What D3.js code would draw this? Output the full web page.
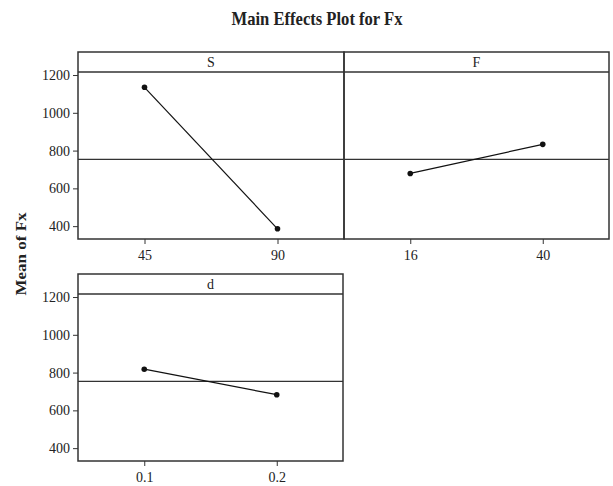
<!DOCTYPE html>
<html>
<head>
<meta charset="utf-8">
<script src="https://cdn.jsdelivr.net/npm/d3@7"></script>
<style>
  body { margin: 0; background: #fff; }
  text { font-family: "Liberation Serif", "DejaVu Serif", serif; fill: #222; }
</style>
</head>
<body>
<svg id="chart" width="613" height="486"></svg>
<script>
// factor levels and mean response
const factors = ["S", "F", "d"];
const levelsS = ["45", "90"];
const meansS = [1135, 386];
const levelsF = ["16", "40"];
const meansF = [679, 833];
const levelsD = ["0.1", "0.2"];
const meansD = [818, 683];
const grandMean = 753;
const yTicks = [400, 600, 800, 1000, 1200];

const panels = [
  { name: factors[0], levels: levelsS, means: meansS, x0: 78, x1: 344, top: 52, yAxis: true },
  { name: factors[1], levels: levelsF, means: meansF, x0: 344, x1: 609, top: 52, yAxis: false },
  { name: factors[2], levels: levelsD, means: meansD, x0: 78, x1: 343, top: 274, yAxis: true }
];

const stripH = 20;
const plotH = 167;
const svg = d3.select("#chart");

svg.append("text")
  .attr("x", 317)
  .attr("y", 25)
  .attr("text-anchor", "middle")
  .attr("font-size", 19)
  .attr("font-weight", "bold")
  .attr("textLength", 171)
  .attr("lengthAdjust", "spacingAndGlyphs")
  .text("Main Effects Plot for Fx");

svg.append("text")
  .attr("transform", "translate(26,254) rotate(-90)")
  .attr("text-anchor", "middle")
  .attr("font-size", 14)
  .attr("font-weight", "bold")
  .attr("textLength", 83)
  .attr("lengthAdjust", "spacingAndGlyphs")
  .text("Mean of Fx");

function styleAxis(sel) {
  sel.select(".domain").remove();
  sel.attr("font-size", 14).attr("font-family", "Liberation Serif");
  sel.selectAll("text").attr("fill", "#222");
  sel.selectAll("line").attr("stroke", "#333");
}

panels.forEach((p) => {
  const g = svg.append("g");
  const yTop = p.top + stripH;
  const yBot = yTop + plotH;

  const x = d3.scalePoint().domain(p.levels).range([p.x0, p.x1]).padding(0.5);
  const y = d3.scaleLinear().domain([332, 1216]).range([yBot, yTop]);

  // reference line at the overall mean
  g.append("line")
    .attr("x1", p.x0).attr("x2", p.x1)
    .attr("y1", y(grandMean)).attr("y2", y(grandMean))
    .attr("stroke", "#333").attr("stroke-width", 1.2);

  g.append("g")
    .attr("transform", `translate(0,${yBot})`)
    .call(d3.axisBottom(x).tickSize(5).tickPadding(6))
    .call(styleAxis);

  if (p.yAxis) {
    g.append("g")
      .attr("transform", `translate(${p.x0},0)`)
      .call(d3.axisLeft(y).tickValues(yTicks).tickFormat(d3.format("d")).tickSize(5).tickPadding(3))
      .call(styleAxis);
  }

  // connecting line and points
  const pts = p.levels.map((l, i) => [x(l), y(p.means[i])]);
  g.append("path")
    .attr("d", d3.line()(pts))
    .attr("fill", "none")
    .attr("stroke", "#111")
    .attr("stroke-width", 1.2);
  g.selectAll("circle")
    .data(pts)
    .enter()
    .append("circle")
    .attr("cx", (d) => d[0])
    .attr("cy", (d) => d[1])
    .attr("r", 2.8)
    .attr("fill", "#111");

  // strip and frame
  g.append("rect")
    .attr("x", p.x0).attr("y", p.top)
    .attr("width", p.x1 - p.x0).attr("height", stripH + plotH)
    .attr("fill", "none").attr("stroke", "#333").attr("stroke-width", 1.5);
  g.append("line")
    .attr("x1", p.x0).attr("x2", p.x1)
    .attr("y1", yTop).attr("y2", yTop)
    .attr("stroke", "#333").attr("stroke-width", 1.5);
  g.append("text")
    .attr("x", (p.x0 + p.x1) / 2)
    .attr("y", p.top + 15)
    .attr("text-anchor", "middle")
    .attr("font-size", 14)
    .text(p.name);
});
</script>
</body>
</html>
